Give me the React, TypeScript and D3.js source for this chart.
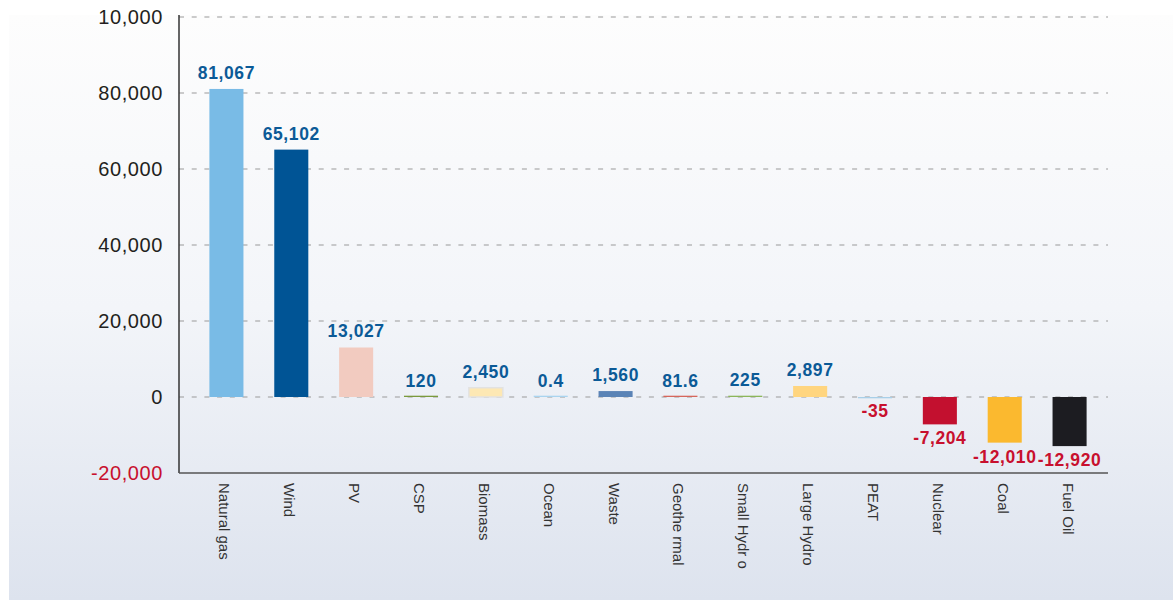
import React from "react";
import * as d3 from "d3";

const categories = ["Natural gas", "Wind", "PV", "CSP", "Biomass", "Ocean", "Waste", "Geothe rmal", "Small Hydr o", "Large Hydro", "PEAT", "Nuclear", "Coal", "Fuel Oil"];
const values = [81067, 65102, 13027, 120, 2450, 0.4, 1560, 81.6, 225, 2897, -35, -7204, -12010, -12920];
const barColors = ["#79bbe6", "#005495", "#f2cbc0", "#7a9a3c", "#fde8b4", "#a9d4ef", "#5a83b6", "#d6675c", "#8cb65a", "#ffd57f", "#a8cfe8", "#c3102f", "#fbb92f", "#1c1c21"];
const yTicks = [100000, 80000, 60000, 40000, 20000, 0, -20000];
const yTickLabels = ["10,000", "80,000", "60,000", "40,000", "20,000", "0", "-20,000"];

const W = 1173;
const H = 600;

export default function App() {
  const y = d3.scaleLinear().domain([-20000, 100000]).range([473, 17]);
  const x = d3
    .scaleBand<string>()
    .domain(categories)
    .range([194, 1102])
    .paddingInner(0.475)
    .paddingOuter(0.2375);
  const fmt = d3.formatLocale({ decimal: ".", thousands: ",", grouping: [3], currency: ["", ""], minus: "-" }).format(",");
  const bw = x.bandwidth();
  const font = "'Liberation Sans', Arial, sans-serif";

  return (
    <svg width={W} height={H} style={{ position: "absolute", left: 0, top: 0 }} fontFamily={font}>
      <defs>
        <linearGradient id="bg" x1="0" y1="0" x2="0" y2="1">
          <stop offset="0" stopColor="#fdfdfd" />
          <stop offset="0.5" stopColor="#f3f5f9" />
          <stop offset="1" stopColor="#dde3ee" />
        </linearGradient>
      </defs>
      <rect x={0} y={0} width={W} height={H} fill="#ffffff" />
      <rect x={9} y={15} width={W - 9} height={H - 15} fill="url(#bg)" />

      {yTicks.map((t, i) =>
        t === -20000 ? null : (
          <line key={"g" + i} x1={179} x2={1108} y1={y(t)} y2={y(t)} stroke="#9a9a9a" strokeWidth={1.2} strokeDasharray="5,7.7" />
        )
      )}

      {categories.map((c, i) => {
        const v = values[i];
        const h = Math.max(Math.abs(y(v) - y(0)), 1.3);
        return (
          <rect
            key={"b" + i}
            x={x(c)}
            y={v >= 0 ? y(0) - h : y(0)}
            width={bw}
            height={h}
            fill={barColors[i]}
            stroke={c === "Biomass" ? "#e2e2e2" : "none"}
            strokeWidth={c === "Biomass" ? 1.5 : 0}
          />
        );
      })}

      <line x1={179} x2={179} y1={15} y2={473} stroke="#333" strokeWidth={1.5} />
      <line x1={179} x2={1108} y1={473} y2={473} stroke="#555" strokeWidth={1.5} />

      {yTicks.map((t, i) => (
        <text
          key={"t" + i}
          x={163}
          y={y(t)}
          dy="0.35em"
          textAnchor="end"
          fontSize={20}
          letterSpacing={0.6}
          fill={t < 0 ? "#c8102e" : "#231f20"}
        >
          {yTickLabels[i]}
        </text>
      ))}

      {categories.map((c, i) => {
        const v = values[i];
        const cx = (x(c) as number) + bw / 2;
        const ty = v >= 0 ? y(v) - 10 : y(v) + 20;
        return (
          <text
            key={"v" + i}
            x={cx}
            y={ty}
            textAnchor="middle"
            fontSize={17.5}
            fontWeight="bold"
            letterSpacing={0.6}
            fill={v >= 0 ? "#0b5a97" : "#c8102e"}
          >
            {fmt(v)}
          </text>
        );
      })}

      {categories.map((c, i) => {
        const cx = (x(c) as number) + bw / 2 - 3;
        return (
          <text
            key={"x" + i}
            transform={`translate(${cx},483) rotate(90)`}
            textAnchor="start"
            dominantBaseline="middle"
            fontSize={15}
            fill="#333"
          >
            {c}
          </text>
        );
      })}
    </svg>
  );
}
